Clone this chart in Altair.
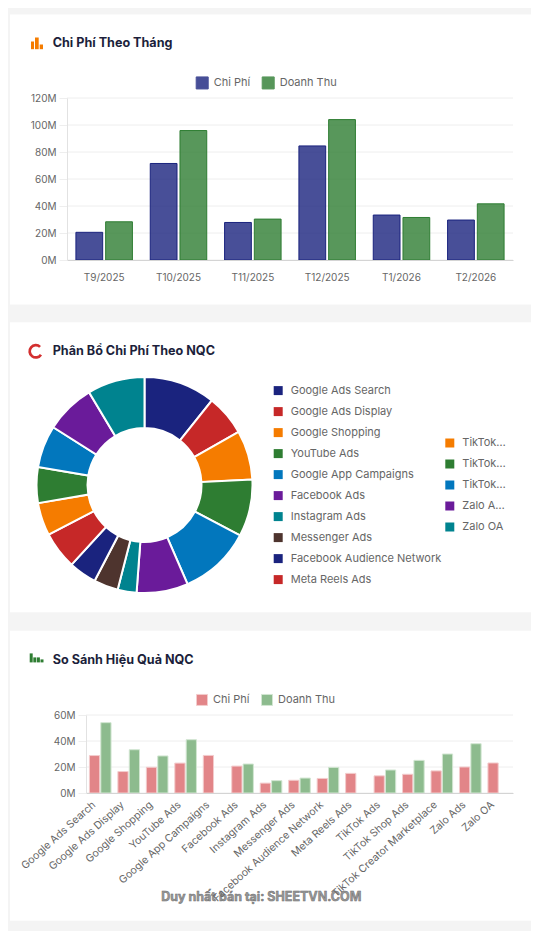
import altair as alt
import pandas as pd

FONT = "Inter"
TITLE_COLOR = "#1c1f3b"
LABEL_COLOR = "#666666"
GRID = "#eeeeee"

# ---------------- data ----------------
months = ["T9/2025", "T10/2025", "T11/2025", "T12/2025", "T1/2026", "T2/2026"]
month_cost = [20.5, 71.5, 27.8, 84.5, 33.3, 29.6]
month_rev = [28.3, 95.9, 30.3, 104.0, 31.5, 41.6]

channels = [
    "Google Ads Search", "Google Ads Display", "Google Shopping", "YouTube Ads",
    "Google App Campaigns", "Facebook Ads", "Instagram Ads", "Messenger Ads",
    "Facebook Audience Network", "Meta Reels Ads", "TikTok Ads", "TikTok Shop Ads",
    "TikTok Creator Marketplace", "Zalo Ads", "Zalo OA",
]
channel_cost = [28.8, 16.5, 19.8, 23.0, 28.9, 20.7, 7.6, 9.8, 11.2, 15.1, 13.2, 14.4, 17.0, 20.0, 23.1]
channel_rev = [54.1, 33.3, 28.5, 41.0, None, 22.3, 9.5, 11.5, 19.7, None, 17.7, 25.1, 30.0, 37.9, None]

series = ["Chi Phí", "Doanh Thu"]
y1_ticks = [0, 20, 40, 60, 80, 100, 120]
y3_ticks = [0, 20, 40, 60]

palette = ["#1a237e", "#c62828", "#f57c00", "#2e7d32", "#0277bd", "#6a1b9a", "#00838f", "#4e342e"]
channel_colors = [palette[i % len(palette)] for i in range(len(channels))]

df1 = pd.DataFrame(
    [{"month": m, "series": series[0], "value": c} for m, c in zip(months, month_cost)]
    + [{"month": m, "series": series[1], "value": r} for m, r in zip(months, month_rev)]
)
df2 = pd.DataFrame({"channel": channels, "cost": channel_cost, "idx": list(range(len(channels)))})
df3 = pd.DataFrame(
    [{"channel": ch, "series": series[0], "value": c} for ch, c in zip(channels, channel_cost)]
    + [{"channel": ch, "series": series[1], "value": r} for ch, r in zip(channels, channel_rev) if r is not None]
)
ticks1 = pd.DataFrame({"value": y1_ticks})
ticks3 = pd.DataFrame({"value": y3_ticks})

ONE = alt.Data(values=[{}])

# every panel shares the same plot origin (page x = 67)
PW = 446
TITLE_SIZE = 12.6


def card(y1, y2):
    return alt.Chart(ONE).mark_rect(fill="white").encode(
        x=alt.value(-57), x2=alt.value(464), y=alt.value(y1), y2=alt.value(y2)
    )


def label(txt, x, y, size, weight, color, align="left"):
    return alt.Chart(ONE).mark_text(
        text=txt, align=align, baseline="middle", font=FONT, fontSize=size,
        fontWeight=weight, color=color
    ).encode(x=alt.value(x), y=alt.value(y))


def icon_bar(x1, x2, y1, y2, color):
    return alt.Chart(ONE).mark_rect(fill=color).encode(
        x=alt.value(x1), x2=alt.value(x2), y=alt.value(y1), y2=alt.value(y2)
    )


def series_legend(x, y, size, opacity):
    return alt.Legend(
        title=None, orient="none", legendX=x, legendY=y, direction="horizontal",
        symbolType="square", symbolSize=size, symbolOpacity=opacity, symbolStrokeWidth=1,
        labelFont=FONT, labelFontSize=11, labelColor=LABEL_COLOR, labelOffset=5,
        columnPadding=9,
    )


def y_axis(ticks, offset=0):
    return alt.Axis(values=ticks, labelExpr="datum.value + 'M'", tickSize=8,
                    tickColor=GRID, grid=False, domainColor="#e2e2e2",
                    labelPadding=3, offset=offset, zindex=1)


# ---------------- card 1 ----------------
H1 = 162
y1_scale = alt.Scale(domain=[0, 120], nice=False)
leg1 = series_legend(128.7, -21.8, 144, 0.8)
grid1 = alt.Chart(ticks1).mark_rule(color=GRID, strokeWidth=1).encode(
    y=alt.Y("value:Q", title=None, scale=y1_scale, axis=y_axis(y1_ticks))
)
bars1 = alt.Chart(df1).mark_bar(fillOpacity=0.8, strokeWidth=1).encode(
    x=alt.X("month:N", sort=months, title=None,
            scale=alt.Scale(paddingInner=0.2, paddingOuter=0.1),
            axis=alt.Axis(labelAngle=0, ticks=False, grid=False, domainColor="#d4d4d4",
                          labelPadding=12, zindex=1)),
    xOffset=alt.XOffset("series:N", sort=series,
                        scale=alt.Scale(paddingInner=0.1, paddingOuter=0.05)),
    y=alt.Y("value:Q", title=None, scale=y1_scale, axis=y_axis(y1_ticks)),
    fill=alt.Fill("series:N", sort=series,
                  scale=alt.Scale(domain=series, range=["#1a237e", "#2e7d32"]), legend=leg1),
    stroke=alt.Stroke("series:N", sort=series,
                      scale=alt.Scale(domain=series, range=["#1a237e", "#2e7d32"]), legend=leg1),
)
card1 = alt.layer(
    card(-83.5, 206.5),
    label("Chi Phí Theo Tháng", -14.3, -54.8, TITLE_SIZE, "bold", TITLE_COLOR),
    icon_bar(-36, -33, -56.5, -48.8, "#f57c00"),
    icon_bar(-32, -28.3, -60.5, -48.8, "#f57c00"),
    icon_bar(-27.3, -24, -53.5, -48.8, "#f57c00"),
    grid1,
    bars1,
).properties(width=PW, height=H1)

# ---------------- card 2 ----------------
H2 = 216
pie_legend_common = dict(
    title=None, orient="none", symbolType="square", symbolSize=81, symbolStrokeWidth=0,
    symbolOpacity=1, labelFont=FONT, labelFontSize=11, labelColor=LABEL_COLOR,
    labelOffset=7, rowPadding=9,
)
pie = alt.Chart(df2).mark_arc(outerRadius=108, innerRadius=57, stroke="white", strokeWidth=2).encode(
    theta=alt.Theta("cost:Q", stack=True),
    order=alt.Order("idx:Q"),
    x=alt.value(77.5),
    y=alt.value(108),
    color=alt.Color("channel:N", sort=channels,
                    scale=alt.Scale(domain=channels, range=channel_colors),
                    legend=alt.Legend(values=channels[:10], legendX=205.7, legendY=8.1,
                                      labelLimit=220, **pie_legend_common)),
)
pie_legend2 = alt.Chart(df2).transform_filter(
    alt.datum.idx >= 10
).mark_square(filled=True, opacity=0, size=1).encode(
    x=alt.value(77.5),
    y=alt.value(108),
    fill=alt.Fill("channel:N", sort=channels[10:],
                  scale=alt.Scale(domain=channels[10:], range=channel_colors[10:]),
                  legend=alt.Legend(legendX=377.3, legendY=60.5,
                                    labelLimit=44, **pie_legend_common)),
)
ring_icon = alt.Chart(ONE).mark_arc(
    radius=7.5, radius2=4.8, theta=2.15, theta2=7.05, fill="#d32f2f"
).encode(x=alt.value(-31.2), y=alt.value(-25.7))
card2 = alt.layer(
    card(-54.7, 235.3),
    label("Phân Bổ Chi Phí Theo NQC", -14.3, -26.4, TITLE_SIZE, "bold", TITLE_COLOR),
    ring_icon,
    pie,
    pie_legend2,
).properties(width=PW, height=H2)

# ---------------- card 3 ----------------
H3 = 78
X3 = 19  # plot area of this panel starts 19px right of the shared origin
y3_scale = alt.Scale(domain=[0, 60], nice=False)
leg3 = series_legend(129, -21.3, 121, 1)
grid3 = alt.Chart(ticks3).mark_rule(color=GRID, strokeWidth=1).encode(
    y=alt.Y("value:Q", title=None, scale=y3_scale, axis=y_axis(y3_ticks, -X3)),
    x=alt.value(X3), x2=alt.value(PW)
)
bars3 = alt.Chart(df3).mark_bar(strokeWidth=1).encode(
    x=alt.X("channel:N", sort=channels, title=None,
            scale=alt.Scale(range=[X3, PW], paddingInner=0.2, paddingOuter=0.1),
            axis=alt.Axis(labelAngle=-42, labelAlign="right", labelBaseline="middle",
                          ticks=False, grid=False, domainColor="#d4d4d4", labelPadding=10,
                          labelOffset=-6, labelFontSize=10.5, labelLimit=200, zindex=1)),
    xOffset=alt.XOffset("series:N", sort=series,
                        scale=alt.Scale(paddingInner=0.1, paddingOuter=0.05)),
    y=alt.Y("value:Q", title=None, scale=y3_scale, axis=y_axis(y3_ticks, -X3)),
    fill=alt.Fill("series:N", sort=series,
                  scale=alt.Scale(domain=series, range=["#e28588", "#8dbb8e"]), legend=leg3),
    stroke=alt.Stroke("series:N", sort=series,
                      scale=alt.Scale(domain=series, range=["#f3cccd", "#d2e6d2"]), legend=None),
)
watermark = alt.Chart(ONE).mark_text(
    text="Duy nhất bán tại: SHEETVN.COM", align="center", baseline="middle", font=FONT,
    fontSize=12.5, fontWeight="bold", fill="#9a9a9a", stroke="#6e6e6e", strokeWidth=0.5,
).encode(x=alt.value(194.3), y=alt.value(181.7))
card3 = alt.layer(
    card(-84.3, 205.7),
    label("So Sánh Hiệu Quả NQC", -14.3, -55, TITLE_SIZE, "bold", TITLE_COLOR),
    icon_bar(-37.3, -34.3, -61.6, -52.6, "#2e7d32"),
    icon_bar(-33.7, -30.7, -57.6, -52.6, "#2e7d32"),
    icon_bar(-30.1, -27.1, -57.6, -52.6, "#2e7d32"),
    icon_bar(-26.5, -23.5, -55.6, -52.6, "#2e7d32"),
    grid3,
    bars3,
    watermark,
).properties(width=PW, height=H3)

chart = (
    alt.vconcat(card1, card2, card3, spacing=17)
    .resolve_scale(x="independent", y="independent", xOffset="independent",
                   color="independent", fill="independent", stroke="independent")
    .resolve_legend(color="independent", fill="independent", stroke="independent")
    .properties(padding={"left": 2, "top": 6, "right": 0, "bottom": 10},
                background="#f4f4f4")
    .configure_view(strokeWidth=0)
    .configure_axis(labelFont=FONT, labelFontSize=10, labelColor=LABEL_COLOR)
)

chart.save("out.html", embed_options={"renderer": "svg", "actions": False})
